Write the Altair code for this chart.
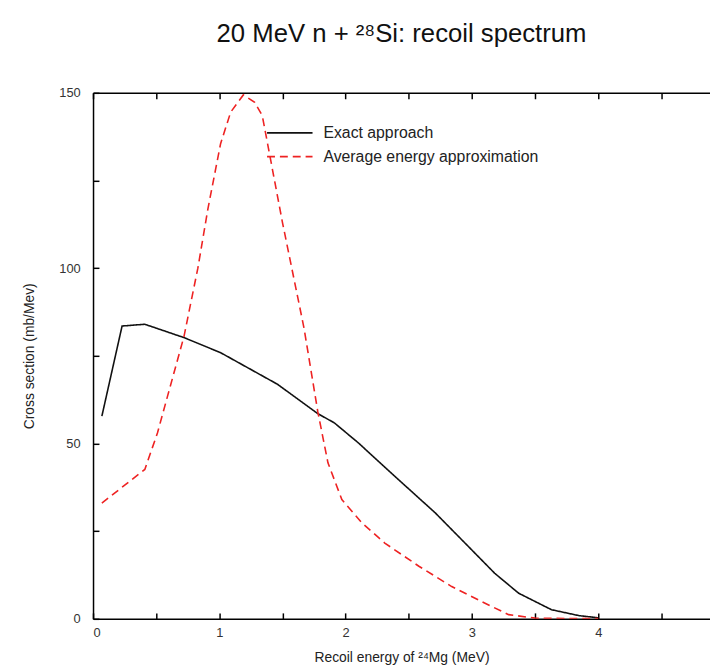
import altair as alt
import pandas as pd

# Exact approach (black solid)
exact_e = [0.07, 0.23, 0.41, 0.72, 1.01, 1.46, 1.78, 1.91, 2.10, 2.36, 2.71, 2.97, 3.18, 3.37, 3.63, 3.85, 4.00]
exact_s = [57.8, 83.5, 84.0, 80.2, 75.9, 66.9, 58.5, 55.9, 50.2, 41.6, 30.2, 20.7, 13.0, 7.3, 2.6, 0.9, 0.3]

# Average energy approximation (red dashed)
avg_e = [0.07, 0.41, 0.51, 0.59, 0.72, 0.83, 0.91, 1.01, 1.09, 1.19, 1.28, 1.34, 1.50, 1.67, 1.78,
         1.86, 1.97, 2.13, 2.31, 2.58, 2.84, 3.10, 3.29, 3.50, 3.75, 4.00]
avg_s = [33.0, 42.6, 53.0, 63.5, 80.5, 100.0, 117.0, 135.5, 144.5, 149.4, 147.3, 143.5, 113.0, 83.0, 59.0,
         44.5, 34.0, 27.3, 21.6, 15.0, 9.2, 4.5, 1.2, 0.2, 0.1, 0.1]

series_names = ["Exact approach", "Average energy approximation"]
series_colors = ["#111111", "#ee2222"]
x_ticks = [0, 0.5, 1, 1.5, 2, 2.5, 3, 3.5, 4, 4.5]
y_ticks = [0, 25, 50, 75, 100, 125, 150]

rows = []
for e, s in zip(exact_e, exact_s):
    rows.append({"E": e, "S": s, "series": series_names[0], "order": len(rows)})
for e, s in zip(avg_e, avg_s):
    rows.append({"E": e, "S": s, "series": series_names[1], "order": len(rows)})
df = pd.DataFrame(rows)

FONT = "Liberation Sans"
XMAX = 4.885

xscale = alt.Scale(domain=[0, XMAX], nice=False, zero=False)
yscale = alt.Scale(domain=[0, 150], nice=False)

x_bottom = alt.X("E:Q", scale=xscale,
                 axis=alt.Axis(orient="bottom", values=x_ticks, title="Recoil energy of ²⁴Mg (MeV)",
                               labelExpr="datum.value % 1 == 0 ? format(datum.value, 'd') : ''",
                               tickSize=alt.ExprRef(expr="-6"), tickColor="#000", tickWidth=1.5,
                               domainColor="#000", domainWidth=1.5, grid=False,
                               labelFont=FONT, labelFontSize=13, labelColor="#333", labelPadding=14,
                               titleFont=FONT, titleFontSize=14, titleFontWeight="normal",
                               titleColor="#222", titlePadding=11))
y_left = alt.Y("S:Q", scale=yscale,
               axis=alt.Axis(orient="left", values=y_ticks, title="Cross section (mb/Mev)",
                             labelExpr="datum.value % 50 == 0 ? format(datum.value, 'd') : ''",
                             tickSize=alt.ExprRef(expr="-6"), tickColor="#000", tickWidth=1.5,
                             domainColor="#000", domainWidth=1.5, grid=False,
                             labelFont=FONT, labelFontSize=13, labelColor="#333", labelPadding=19,
                             titleFont=FONT, titleFontSize=14, titleFontWeight="normal",
                             titleColor="#222", titlePadding=23))

legend = alt.Legend(title=None, orient="none", legendX=175, legendY=33,
                    symbolType="stroke", symbolSize=2116, symbolStrokeWidth=1.6, clipHeight=15,
                    labelFont=FONT, labelFontSize=16, labelColor="#222", labelLimit=400,
                    labelOffset=10, rowPadding=7, padding=0)

lines = alt.Chart(df).mark_line(strokeWidth=1.6, clip=True).encode(
    x=x_bottom,
    y=y_left,
    order="order:Q",
    color=alt.Color("series:N", scale=alt.Scale(domain=series_names, range=series_colors), legend=legend),
    strokeDash=alt.StrokeDash("series:N", scale=alt.Scale(domain=series_names, range=[[1, 0], [8, 5]]),
                              legend=legend),
)

frame = alt.Chart(df).mark_line(opacity=0).encode(
    x=alt.X("E:Q", scale=xscale,
            axis=alt.Axis(orient="top", values=x_ticks, labels=False, title=None,
                          tickSize=alt.ExprRef(expr="-6"), tickColor="#000", tickWidth=1.5,
                          domainColor="#000", domainWidth=1.5, grid=False)),
    y=alt.Y("S:Q", scale=yscale, axis=None),
    detail="series:N",
)

chart = alt.layer(frame, lines).resolve_axis(x="independent", y="independent").properties(
    width=710,
    height=532,
    title=alt.TitleParams("20 MeV n + ²⁸Si: recoil spectrum", font=FONT, fontSize=26,
                          fontWeight="normal", color="#111", offset=40),
    autosize=alt.AutoSizeParams(type="fit-x", contains="padding"),
    padding={"left": 14, "right": 0, "top": 10, "bottom": 5},
).configure_view(stroke=None)

chart.save("out.html", embed_options={"renderer": "svg", "actions": False})
